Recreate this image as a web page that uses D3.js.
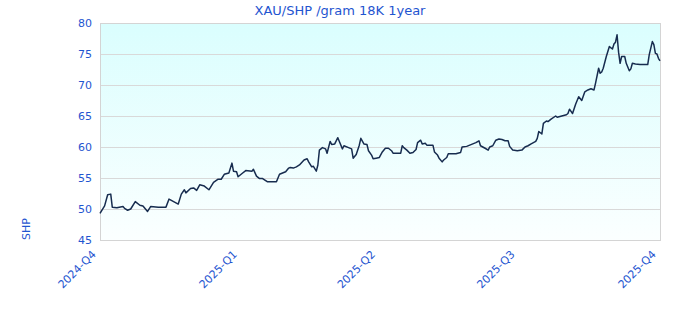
<!DOCTYPE html>
<html>
<head>
<meta charset="utf-8">
<script src="https://cdn.jsdelivr.net/npm/d3@7"></script>
<style>
  body { margin: 0; background: #fff; }
  text { font-family: "DejaVu Sans", sans-serif; fill: #1f55d0; }
</style>
</head>
<body>
<script>
// days after 2024-10-01 and price in SHP per gram
var dayOffsets = [0, 3, 5, 7, 8, 11, 15, 16, 18, 20, 23, 26, 28, 31, 33, 38, 43, 45, 48, 51,
  53, 55, 56, 59, 61, 63, 65, 68, 71, 74, 77, 79, 81, 84, 86, 87, 89, 90, 91, 93,
  95, 99, 100, 102, 104, 106, 109, 115, 117, 121, 123, 124, 126, 128, 130, 133, 135, 136, 138, 139,
  141, 142, 143, 145, 147, 148, 150, 151, 153, 155, 156, 158, 159, 162, 164, 165, 167, 169, 170, 172,
  174, 175, 177, 178, 180, 182, 184, 186, 188, 190, 191, 196, 197, 198, 200, 202, 204, 206, 207, 209,
  210, 212, 213, 217, 218, 220, 221, 223, 224, 226, 227, 232, 235, 236, 239, 241, 243, 245, 247, 248,
  251, 253, 254, 256, 258, 260, 262, 264, 266, 267, 269, 272, 275, 277, 279, 281, 284, 285, 286, 288,
  289, 291, 292, 294, 297, 298, 301, 304, 305, 306, 308, 310, 312, 314, 316, 318, 320, 322, 323, 325,
  326, 327, 328, 330, 332, 334, 335, 336, 337, 338, 339, 340, 342, 343, 345, 346, 347, 349, 352, 355,
  357, 358, 360, 361, 362, 363, 364, 365];

var prices = [49.3, 50.5, 52.3, 52.4, 50.3, 50.2, 50.4, 50.1, 49.8, 50.0, 51.2, 50.6, 50.5, 49.6, 50.4, 50.3, 50.3, 51.6, 51.2, 50.8,
  52.4, 53.1, 52.6, 53.3, 53.4, 53.0, 53.9, 53.7, 53.1, 54.3, 54.8, 54.8, 55.6, 55.8, 57.4, 56.1, 56.0, 55.2, 55.4, 55.8,
  56.2, 56.1, 56.4, 55.3, 54.9, 54.9, 54.4, 54.4, 55.6, 56.0, 56.6, 56.7, 56.6, 56.8, 57.1, 57.9, 58.1, 57.6, 56.8, 56.9,
  56.1, 57.1, 59.5, 59.9, 59.7, 59.0, 60.9, 60.4, 60.5, 61.5, 60.9, 59.7, 60.2, 59.9, 59.7, 58.2, 58.8, 60.3, 61.4, 60.5,
  60.4, 59.4, 58.7, 58.1, 58.2, 58.3, 59.2, 59.8, 59.8, 59.4, 59.0, 59.0, 60.2, 59.9, 59.5, 59.0, 59.1, 59.6, 60.7, 61.1,
  60.5, 60.6, 60.3, 60.3, 59.2, 58.7, 58.2, 57.6, 57.9, 58.3, 58.9, 58.9, 59.1, 60.0, 60.1, 60.3, 60.5, 60.7, 61.0, 60.2,
  59.8, 59.5, 60.0, 60.2, 61.1, 61.3, 61.2, 61.0, 61.0, 60.1, 59.5, 59.4, 59.5, 60.0, 60.2, 60.5, 60.9, 61.4, 62.5, 62.1,
  63.8, 64.2, 64.1, 64.5, 65.0, 64.8, 65.0, 65.2, 65.4, 66.1, 65.4, 66.9, 68.1, 67.5, 68.9, 69.2, 69.4, 69.2, 70.3, 72.7,
  71.9, 72.1, 72.7, 74.6, 76.2, 75.8, 76.6, 76.9, 78.1, 75.3, 73.5, 74.6, 74.6, 73.5, 72.3, 72.6, 73.5, 73.4, 73.3, 73.3,
  73.3, 74.9, 77.0, 76.5, 75.1, 75.0, 74.3, 73.9];

var yTicks = [45, 50, 55, 60, 65, 70, 75, 80];
var startDate = new Date(2024, 9, 1), endDate = new Date(2025, 9, 1);

var W = 680, H = 320,
    margin = {top: 23, right: 20, bottom: 80, left: 100},
    iw = W - margin.left - margin.right,
    ih = H - margin.top - margin.bottom;

var data = dayOffsets.map((d, i) => ({date: d3.timeDay.offset(startDate, d), value: prices[i]}));

var x = d3.scaleTime().domain([startDate, endDate]).range([0, iw]),
    y = d3.scaleLinear().domain([45, 80]).range([ih, 0]);

var svg = d3.select("body").append("svg")
    .attr("width", W)
    .attr("height", H);

var defs = svg.append("defs");
var grad = defs.append("linearGradient")
    .attr("id", "bg").attr("x1", 0).attr("y1", 0).attr("x2", 0).attr("y2", 1);
grad.append("stop").attr("offset", "0%").attr("stop-color", "#dafefe");
grad.append("stop").attr("offset", "100%").attr("stop-color", "#fbffff");

var g = svg.append("g").attr("transform", "translate(" + margin.left + "," + margin.top + ")");

g.append("rect")
    .attr("width", iw).attr("height", ih)
    .attr("fill", "url(#bg)");

// horizontal grid
g.selectAll(".grid")
    .data(yTicks.slice(1, -1))
  .enter().append("line")
    .attr("class", "grid")
    .attr("x1", 0).attr("x2", iw)
    .attr("y1", d => Math.round(y(d)) + 0.5).attr("y2", d => Math.round(y(d)) + 0.5)
    .attr("stroke", "#d9d9d9");

g.append("rect")
    .attr("x", 0.5).attr("y", 0.5)
    .attr("width", iw).attr("height", ih)
    .attr("fill", "none").attr("stroke", "#d4d4d4");

var yAxis = g.append("g")
    .call(d3.axisLeft(y).tickValues(yTicks).tickSize(0).tickPadding(8));
yAxis.select(".domain").remove();
yAxis.selectAll("text").style("font-size", "11px").attr("fill", null);

var fmtQ = d => d.getFullYear() + "-Q" + (Math.floor(d.getMonth() / 3) + 1);
var xAxis = g.append("g")
    .attr("transform", "translate(0," + ih + ")")
    .call(d3.axisBottom(x).ticks(d3.timeMonth.every(3)).tickFormat(fmtQ).tickSize(0));
xAxis.select(".domain").remove();
xAxis.selectAll("text")
    .style("font-size", "11px").attr("fill", null)
    .attr("text-anchor", "end")
    .attr("dy", null)
    .attr("transform", "translate(-6,13) rotate(-45)");

var line = d3.line()
    .x(d => x(d.date))
    .y(d => y(d.value));

g.append("path")
    .datum(data)
    .attr("d", line)
    .attr("fill", "none")
    .attr("stroke", "#172c4f")
    .attr("stroke-width", 1.5)
    .attr("stroke-linejoin", "round");

svg.append("text")
    .attr("x", 340).attr("y", 15)
    .attr("text-anchor", "middle")
    .style("font-size", "13px")
    .text("XAU/SHP /gram 18K 1year");

svg.append("text")
    .attr("transform", "translate(30,229) rotate(-90)")
    .attr("text-anchor", "middle")
    .style("font-size", "11px")
    .text("SHP");
</script>
</body>
</html>
